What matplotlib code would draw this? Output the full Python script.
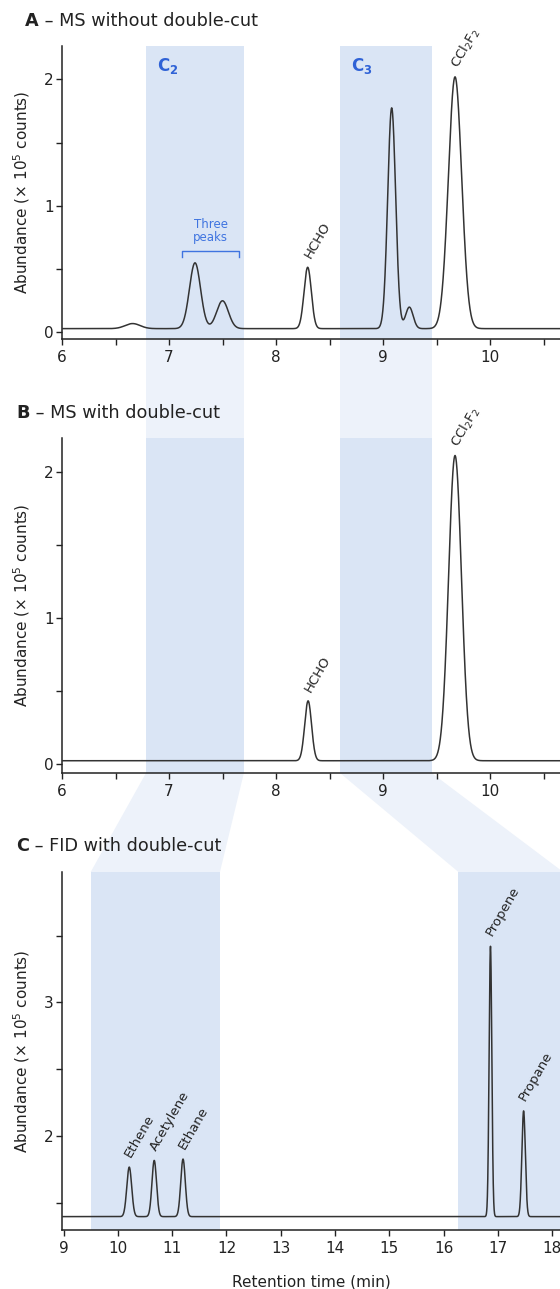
import numpy as np
import matplotlib
matplotlib.use("Agg")
import matplotlib.pyplot as plt
from matplotlib.patches import Polygon
from matplotlib.ticker import MultipleLocator, FuncFormatter

plt.rcParams['font.family'] = ['DejaVu Sans']
plt.rcParams['mathtext.fontset'] = 'dejavusans'

# peak tables
# retention time (min), height above baseline (x 10^5 counts), peak width sigma (min)
a_rt = [6.66, 7.243, 7.50, 8.296, 9.081, 9.246, 9.673]
a_height = [0.04, 0.52, 0.22, 0.485, 1.745, 0.17, 1.99]
a_sigma = [0.07, 0.052, 0.055, 0.034, 0.037, 0.035, 0.062]
a_baseline = 0.03

b_rt = [8.30, 9.673]
b_height = [0.41, 2.09]
b_sigma = [0.032, 0.06]
b_baseline = 0.02

c_rt = [10.21, 10.67, 11.20, 16.86, 17.47]
c_height = [0.37, 0.42, 0.43, 2.02, 0.79]
c_sigma = [0.045, 0.042, 0.042, 0.025, 0.032]
c_baseline = 1.40

# peak names
ms_names = ['HCHO', 'CCl$_2$F$_2$']
a_name_rt = [8.296, 9.673]
b_name_rt = [8.30, 9.673]
c_names = ['Ethene', 'Acetylene', 'Ethane', 'Propene', 'Propane']

# heart-cut windows (min)
ms_windows = [(6.785, 7.70), (8.598, 9.455)]
fid_windows = [(9.50, 11.88), (16.27, 18.2)]
window_names = [r'$\mathbf{C_2}$', r'$\mathbf{C_3}$']
three_peaks_span = (7.125, 7.657)

titles = [('A', ' \u2013 MS without double-cut'),
          ('B', ' \u2013 MS with double-cut'),
          ('C', ' \u2013 FID with double-cut')]

W, H = 560, 1289
band_dark = '#dae5f5'
band_light = '#edf2fa'
ink = '#222222'
trace_col = '#333333'
blue = '#2f62d6'


def trace(t, base, rts, hs, sig):
    y = np.full_like(t, base)
    for r, h, s in zip(rts, hs, sig):
        y += h * np.exp(-0.5 * ((t - r) / s) ** 2)
    return y


def int_labels(v, pos):
    return f'{v:.0f}' if abs(v - round(v)) < 1e-6 else ''


fig = plt.figure(figsize=(W / 100, H / 100), dpi=100)

def px_axes(left, top, right, bottom):
    return fig.add_axes([left / W, 1 - bottom / H, (right - left) / W, (bottom - top) / H])

ax_a = px_axes(62, 46, 560, 339)
ax_b = px_axes(62, 438, 560, 773)
ax_c = px_axes(62, 872, 560, 1230)

ax_a.set_xlim(6, 10.654)
ax_a.set_ylim(-0.052, 2.264)
ax_b.set_xlim(6, 10.654)
ax_b.set_ylim(-0.064, 2.23)
ax_c.set_xlim(8.972, 18.14)
ax_c.set_ylim(1.30, 3.975)

for ax in (ax_a, ax_b, ax_c):
    ax.set_facecolor('none')
    for s in ('top', 'right'):
        ax.spines[s].set_visible(False)
    for s in ('left', 'bottom'):
        ax.spines[s].set_linewidth(1.1)
        ax.spines[s].set_color(ink)
    ax.tick_params(axis='both', length=4.5, width=1.0, color=ink, labelcolor=ink, labelsize=11)
    ax.tick_params(axis='x', pad=3.5)
    ax.tick_params(axis='y', pad=1.5)
    ax.yaxis.set_major_locator(MultipleLocator(0.5))
    ax.yaxis.set_major_formatter(FuncFormatter(int_labels))

for ax in (ax_a, ax_b):
    ax.xaxis.set_major_locator(MultipleLocator(0.5))
    ax.xaxis.set_major_formatter(FuncFormatter(int_labels))
ax_c.xaxis.set_major_locator(MultipleLocator(1))

# shaded windows inside the panels
for x0, x1 in ms_windows:
    ax_a.axvspan(x0, x1, color=band_dark, lw=0, zorder=0)
    ax_b.axvspan(x0, x1, color=band_dark, lw=0, zorder=0)
for x0, x1 in fid_windows:
    ax_c.axvspan(x0, x1, color=band_dark, lw=0, zorder=0)

# traces
ta = np.linspace(6, 10.654, 3000)
ax_a.plot(ta, trace(ta, a_baseline, a_rt, a_height, a_sigma), color=trace_col, lw=1.1, zorder=3)
tb = np.linspace(6, 10.654, 3000)
ax_b.plot(tb, trace(tb, b_baseline, b_rt, b_height, b_sigma), color=trace_col, lw=1.1, zorder=3)
tc = np.linspace(8.972, 18.14, 5000)
ax_c.plot(tc, trace(tc, c_baseline, c_rt, c_height, c_sigma), color=trace_col, lw=1.1, zorder=3)

# peak names
def name_peaks(ax, names, rts, base, prts, hs, sig, size, dx, dy):
    for name, r in zip(names, rts):
        top = trace(np.array([r]), base, prts, hs, sig)[0]
        ax.annotate(name, xy=(r, top), xytext=(dx, dy), textcoords='offset points',
                    rotation=60, rotation_mode='anchor', ha='left', va='center',
                    fontsize=size, color=ink, annotation_clip=False)

name_peaks(ax_a, ms_names, a_name_rt, a_baseline, a_rt, a_height, a_sigma, 9.5, 0, 7)
name_peaks(ax_b, ms_names, b_name_rt, b_baseline, b_rt, b_height, b_sigma, 9.5, 0, 7)
name_peaks(ax_c, c_names, c_rt, c_baseline, c_rt, c_height, c_sigma, 9.5, -1, 8)

# C2 / C3 window labels
for (x0, x1), nm in zip(ms_windows, window_names):
    ax_a.text(x0 + 0.1, 2.07, nm, color=blue, fontsize=12, va='baseline', ha='left')

# "Three peaks" bracket
bx0, bx1 = three_peaks_span
ax_a.plot([bx0, bx0, bx1, bx1], [0.594, 0.647, 0.647, 0.594], color='#3f74e0', lw=1.0)
ax_a.text((bx0 + bx1) / 2, 0.80, 'Three\npeaks', color='#3f74e0', fontsize=8.5,
          ha='center', va='center', linespacing=1.0)

# connectors between the panels
inv = fig.transFigure.inverted()

def fxy(ax, x, y):
    return inv.transform(ax.transData.transform((x, y)))

for x0, x1 in ms_windows:
    pts = [fxy(ax_a, x0, ax_a.get_ylim()[0]), fxy(ax_a, x1, ax_a.get_ylim()[0]),
           fxy(ax_b, x1, ax_b.get_ylim()[1]), fxy(ax_b, x0, ax_b.get_ylim()[1])]
    fig.add_artist(Polygon(pts, closed=True, facecolor=band_light, lw=0, zorder=-1,
                           transform=fig.transFigure))
for (x0, x1), (c0, c1) in zip(ms_windows, fid_windows):
    pts = [fxy(ax_b, x0, ax_b.get_ylim()[0]), fxy(ax_b, x1, ax_b.get_ylim()[0]),
           fxy(ax_c, c1, ax_c.get_ylim()[1]), fxy(ax_c, c0, ax_c.get_ylim()[1])]
    fig.add_artist(Polygon(pts, closed=True, facecolor=band_light, lw=0, zorder=-1,
                           transform=fig.transFigure))

# panel titles with bold letter
renderer = fig.canvas.get_renderer()
for (letter, rest), (x, y) in zip(titles, [(25, 26), (16, 418), (16, 851)]):
    t = fig.text(x / W, 1 - y / H, letter, fontsize=12.7, fontweight='bold', color=ink,
                 va='baseline', ha='left')
    x_end = inv.transform((t.get_window_extent(renderer).x1, 0))[0]
    fig.text(x_end, 1 - y / H, rest, fontsize=12.7, color=ink, va='baseline', ha='left')

# axis labels
ylab = 'Abundance (\u00d7 10$^5$ counts)'
for ax in (ax_a, ax_b, ax_c):
    pos = ax.get_position()
    fig.text(21.7 / W, pos.y0 + pos.height / 2, ylab, rotation=90, fontsize=11,
             color=ink, ha='center', va='center')
fig.text(311 / W, 1 - 1281.7 / H, 'Retention time (min)', fontsize=11, color=ink,
         ha='center', va='center')

fig.savefig('out.png', dpi=100)
